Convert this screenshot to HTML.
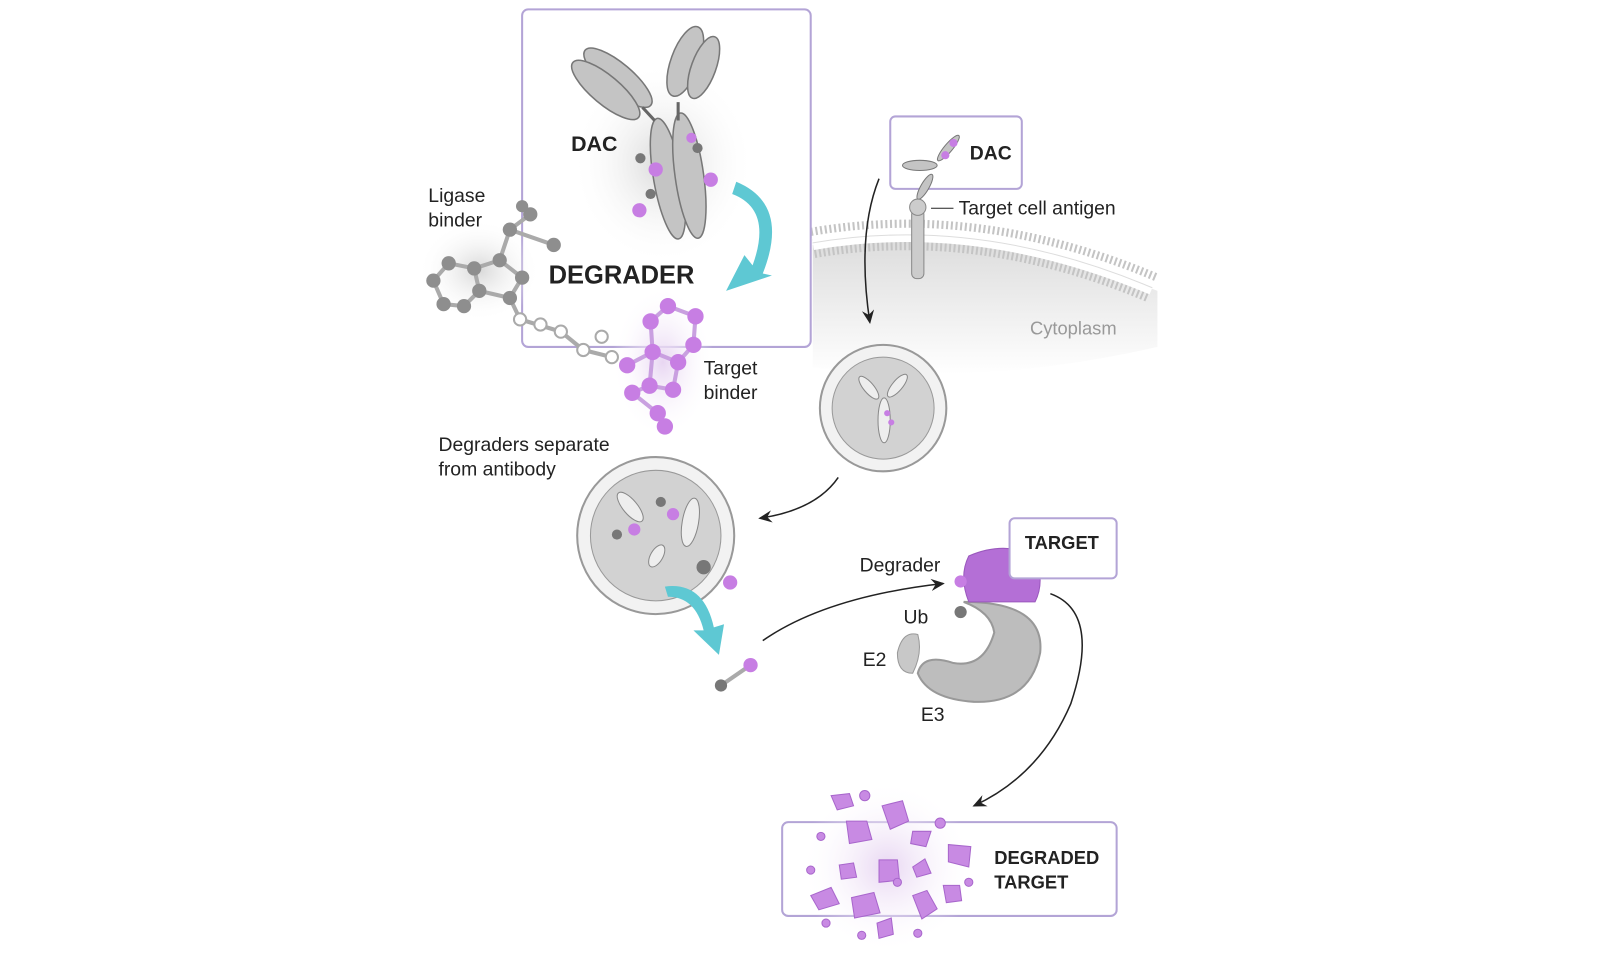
<!DOCTYPE html>
<html><head><meta charset="utf-8"><style>
html,body{margin:0;padding:0;background:#fff;}
svg{display:block;font-family:"Liberation Sans",sans-serif;}
.t{font-size:19px;fill:#222;}
.b{font-weight:bold;fill:#222;}
</style></head><body>
<svg width="1600" height="960" viewBox="0 0 1569 941" xmlns="http://www.w3.org/2000/svg">
<defs>
<radialGradient id="gs" cx="0.5" cy="0.5" r="0.5"><stop offset="0" stop-color="#d8d8d8"/><stop offset="1" stop-color="#fff" stop-opacity="0"/></radialGradient>
<radialGradient id="ps" cx="0.5" cy="0.5" r="0.5"><stop offset="0" stop-color="#e8d6f2"/><stop offset="1" stop-color="#fff" stop-opacity="0"/></radialGradient>
<linearGradient id="cy" x1="0" y1="0" x2="0" y2="1"><stop offset="0" stop-color="#dcdcdc"/><stop offset="1" stop-color="#fff"/></linearGradient>
<marker id="ar" markerWidth="10" markerHeight="10" refX="8" refY="5" orient="auto"><path d="M0,1 L9,5 L0,9 L3,5Z" fill="#222"/></marker>
</defs>
<!-- cytoplasm membrane -->
<path d="M797,240 Q960,215 1135,285 L1135,340 Q960,380 797,360Z" fill="url(#cy)"/>
<path d="M797,238 Q960,210 1130,282" fill="none" stroke="#c4c4c4" stroke-width="30" stroke-dasharray="2 2.5"/>
<path d="M797,238 Q960,210 1130,282" fill="none" stroke="#fff" stroke-width="14"/>
<path d="M797,238 Q960,210 1130,282" fill="none" stroke="#ddd" stroke-width="1"/>
<text x="1010" y="328" font-size="18" fill="#999">Cytoplasm</text>
<!-- top box -->
<rect x="512" y="9" width="283" height="331" rx="6" fill="none" stroke="#b3a4d6" stroke-width="2"/>
<ellipse cx="650" cy="160" rx="90" ry="100" fill="url(#gs)"/>
<g fill="#c4c4c4" stroke="#777" stroke-width="1.5">
<ellipse cx="606" cy="76" rx="14" ry="42" transform="rotate(-50 606 76)"/>
<ellipse cx="594" cy="88" rx="14" ry="42" transform="rotate(-50 594 88)"/>
<ellipse cx="672" cy="60" rx="14" ry="36" transform="rotate(20 672 60)"/>
<ellipse cx="690" cy="66" rx="12" ry="32" transform="rotate(20 690 66)"/>
<ellipse cx="655" cy="175" rx="14" ry="60" transform="rotate(-10 655 175)"/>
<ellipse cx="676" cy="172" rx="14" ry="62" transform="rotate(-8 676 172)"/>
</g>
<path d="M630,105 L642,118 M665,100 L665,118" stroke="#666" stroke-width="3"/>
<g fill="#c77ee3"><circle cx="643" cy="166" r="7"/><circle cx="697" cy="176" r="7"/><circle cx="627" cy="206" r="7"/><circle cx="678" cy="135" r="5"/></g>
<g fill="#777"><circle cx="628" cy="155" r="5"/><circle cx="684" cy="145" r="5"/><circle cx="638" cy="190" r="5"/></g>
<text x="560" y="148" font-size="21" class="b">DAC</text>
<path d="M722,178 Q775,200 748,268 L757,270 L712,285 L730,250 L738,260 Q758,205 718,190Z" fill="#5ec8d3"/>
<!-- degrader molecule -->
<ellipse cx="470" cy="265" rx="60" ry="50" fill="url(#gs)"/>
<ellipse cx="650" cy="355" rx="50" ry="75" fill="url(#ps)"/>
<g stroke="#aaa" stroke-width="4" fill="none">
<path d="M425,275 L440,258 L465,263 L470,285 L455,300 L435,298Z M465,263 L490,255 L512,272 L500,292 L470,285 M490,255 L500,225 L520,210 M500,225 L543,240 M500,292 L510,313 L550,325 L572,343 L600,350"/>
</g>
<g stroke="#c9a0e0" stroke-width="4" fill="none"><path d="M615,358 L640,345 L665,355 L680,338 L682,310 L655,300 L638,315 L640,345 M640,345 L637,378 L660,382 L665,355 M637,378 L620,385 L645,405 L652,418"/></g>
<g fill="#8e8e8e"><circle cx="425" cy="275" r="7"/><circle cx="440" cy="258" r="7"/><circle cx="465" cy="263" r="7"/><circle cx="470" cy="285" r="7"/><circle cx="455" cy="300" r="7"/><circle cx="435" cy="298" r="7"/><circle cx="490" cy="255" r="7"/><circle cx="512" cy="272" r="7"/><circle cx="500" cy="292" r="7"/><circle cx="500" cy="225" r="7"/><circle cx="520" cy="210" r="7"/><circle cx="543" cy="240" r="7"/><circle cx="512" cy="202" r="6"/></g>
<g fill="#fff" stroke="#aaa" stroke-width="2"><circle cx="510" cy="313" r="6"/><circle cx="530" cy="318" r="6"/><circle cx="550" cy="325" r="6"/><circle cx="572" cy="343" r="6"/><circle cx="590" cy="330" r="6"/><circle cx="600" cy="350" r="6"/></g>
<g fill="#c77ee3"><circle cx="615" cy="358" r="8"/><circle cx="640" cy="345" r="8"/><circle cx="665" cy="355" r="8"/><circle cx="680" cy="338" r="8"/><circle cx="682" cy="310" r="8"/><circle cx="655" cy="300" r="8"/><circle cx="638" cy="315" r="8"/><circle cx="637" cy="378" r="8"/><circle cx="660" cy="382" r="8"/><circle cx="620" cy="385" r="8"/><circle cx="645" cy="405" r="8"/><circle cx="652" cy="418" r="8"/></g>
<text x="420" y="198" class="t">Ligase</text><text x="420" y="222" class="t">binder</text>
<text x="538" y="278" font-size="25" class="b">DEGRADER</text>
<text x="690" y="367" class="t">Target</text><text x="690" y="391" class="t">binder</text>
<!-- small DAC box -->
<rect x="873" y="114" width="129" height="71" rx="5" fill="#fff" stroke="#b3a4d6" stroke-width="2"/>
<g fill="#c4c4c4" stroke="#777"><ellipse cx="902" cy="162" rx="17" ry="5"/><ellipse cx="930" cy="145" rx="4" ry="16" transform="rotate(40 930 145)"/><ellipse cx="907" cy="183" rx="4" ry="14" transform="rotate(30 907 183)"/></g>
<circle cx="935" cy="140" r="4" fill="#c77ee3"/><circle cx="927" cy="152" r="4" fill="#c77ee3"/>
<text x="951" y="156" font-size="19" class="b">DAC</text>
<rect x="894" y="205" width="12" height="68" rx="5" fill="#ccc" stroke="#888"/>
<circle cx="900" cy="203" r="8" fill="#ccc" stroke="#888"/>
<line x1="913" y1="204" x2="935" y2="204" stroke="#222"/>
<text x="940" y="210" class="t">Target cell antigen</text>
<path d="M862,175 Q840,230 853,316" fill="none" stroke="#222" stroke-width="1.5" marker-end="url(#ar)"/>
<!-- endosome 1 -->
<circle cx="866" cy="400" r="62" fill="#f2f2f2" stroke="#999" stroke-width="2"/>
<circle cx="866" cy="400" r="50" fill="#d2d2d2" stroke="#999"/>
<g fill="#eee" stroke="#888"><ellipse cx="852" cy="380" rx="5" ry="14" transform="rotate(-40 852 380)"/><ellipse cx="880" cy="378" rx="5" ry="14" transform="rotate(40 880 378)"/><ellipse cx="867" cy="412" rx="6" ry="22"/></g>
<circle cx="870" cy="405" r="3" fill="#c77ee3"/><circle cx="874" cy="414" r="3" fill="#c77ee3"/>
<path d="M822,468 Q800,500 745,508" fill="none" stroke="#222" stroke-width="1.5" marker-end="url(#ar)"/>
<text x="430" y="442" class="t">Degraders separate</text><text x="430" y="466" class="t">from antibody</text>
<!-- endosome 2 -->
<circle cx="643" cy="525" r="77" fill="#f2f2f2" stroke="#999" stroke-width="2"/>
<circle cx="643" cy="525" r="64" fill="#d2d2d2" stroke="#999"/>
<g fill="#eee" stroke="#888"><ellipse cx="618" cy="497" rx="7" ry="18" transform="rotate(-40 618 497)"/><ellipse cx="677" cy="512" rx="8" ry="24" transform="rotate(10 677 512)"/><ellipse cx="644" cy="545" rx="6" ry="12" transform="rotate(30 644 545)"/></g>
<g fill="#c77ee3"><circle cx="622" cy="519" r="6"/><circle cx="660" cy="504" r="6"/><circle cx="716" cy="571" r="7"/></g>
<g fill="#777"><circle cx="605" cy="524" r="5"/><circle cx="648" cy="492" r="5"/><circle cx="690" cy="556" r="7"/></g>
<path d="M652,575 Q690,570 700,615 L710,612 L705,642 L680,618 L690,618 Q682,585 655,585Z" fill="#5ec8d3"/>
<line x1="707" y1="672" x2="736" y2="652" stroke="#aaa" stroke-width="4"/><circle cx="707" cy="672" r="6" fill="#777"/><circle cx="736" cy="652" r="7" fill="#c77ee3"/>
<path d="M748,628 Q810,585 925,572" fill="none" stroke="#222" stroke-width="1.5" marker-end="url(#ar)"/>
<text x="843" y="560" class="t">Degrader</text>
<!-- E3 complex -->
<path d="M945,590 Q1025,590 1020,640 Q1010,690 955,688 Q910,685 900,660 Q905,640 935,650 Q965,655 975,620 Q972,600 945,590Z" fill="#bdbdbd" stroke="#999" stroke-width="2"/>
<path d="M880,640 Q885,618 900,622 Q905,640 895,660 Q880,660 880,640Z" fill="#c8c8c8" stroke="#999"/>
<path d="M950,545 Q985,530 1015,545 Q1025,570 1015,590 L950,590 Q940,565 950,545Z" fill="#b46fd6" stroke="#9a58bd"/>
<rect x="990" y="508" width="105" height="59" rx="5" fill="#fff" stroke="#b3a4d6" stroke-width="2"/>
<text x="1005" y="538" font-size="18" class="b">TARGET</text>
<circle cx="942" cy="570" r="6" fill="#c77ee3"/><circle cx="942" cy="600" r="6" fill="#777"/>
<text x="886" y="611" class="t">Ub</text><text x="846" y="653" class="t">E2</text><text x="903" y="707" class="t">E3</text>
<path d="M1030,582 Q1080,600 1050,690 Q1020,760 955,790" fill="none" stroke="#222" stroke-width="1.5" marker-end="url(#ar)"/>
<!-- degraded target -->
<rect x="767" y="806" width="328" height="92" rx="6" fill="#fff" stroke="#b3a4d6" stroke-width="2"/>
<ellipse cx="870" cy="850" rx="85" ry="85" fill="url(#ps)"/>
<g fill="#c88ae3" stroke="#a866cc">
<path d="M815,780 l18,-2 l4,12 l-16,4z"/><circle cx="848" cy="780" r="5"/><path d="M865,790 l20,-5 l6,20 l-18,8z"/>
<path d="M830,805 l20,0 l5,18 l-22,4z"/><path d="M895,815 l18,0 l-5,15 l-15,-3z"/><circle cx="922" cy="807" r="5"/>
<circle cx="805" cy="820" r="4"/><path d="M930,828 l22,2 l-2,20 l-20,-5z"/><path d="M823,848 l14,-2 l3,14 l-15,2z"/>
<path d="M862,843 l18,0 l2,20 l-20,2z"/><path d="M895,850 l12,-8 l6,14 l-14,4z"/><circle cx="795" cy="853" r="4"/>
<path d="M795,878 l20,-8 l8,16 l-20,6z"/><path d="M835,880 l22,-5 l6,20 l-25,5z"/><path d="M895,878 l14,-5 l10,18 l-15,10z"/>
<path d="M925,868 l16,0 l2,15 l-15,2z"/><circle cx="950" cy="865" r="4"/><circle cx="810" cy="905" r="4"/>
<path d="M860,905 l14,-5 l2,16 l-14,4z"/><circle cx="845" cy="917" r="4"/><circle cx="900" cy="915" r="4"/><circle cx="880" cy="865" r="4"/>
</g>
<text x="975" y="847" font-size="18" class="b">DEGRADED</text>
<text x="975" y="871" font-size="18" class="b">TARGET</text>
</svg>
</body></html>
